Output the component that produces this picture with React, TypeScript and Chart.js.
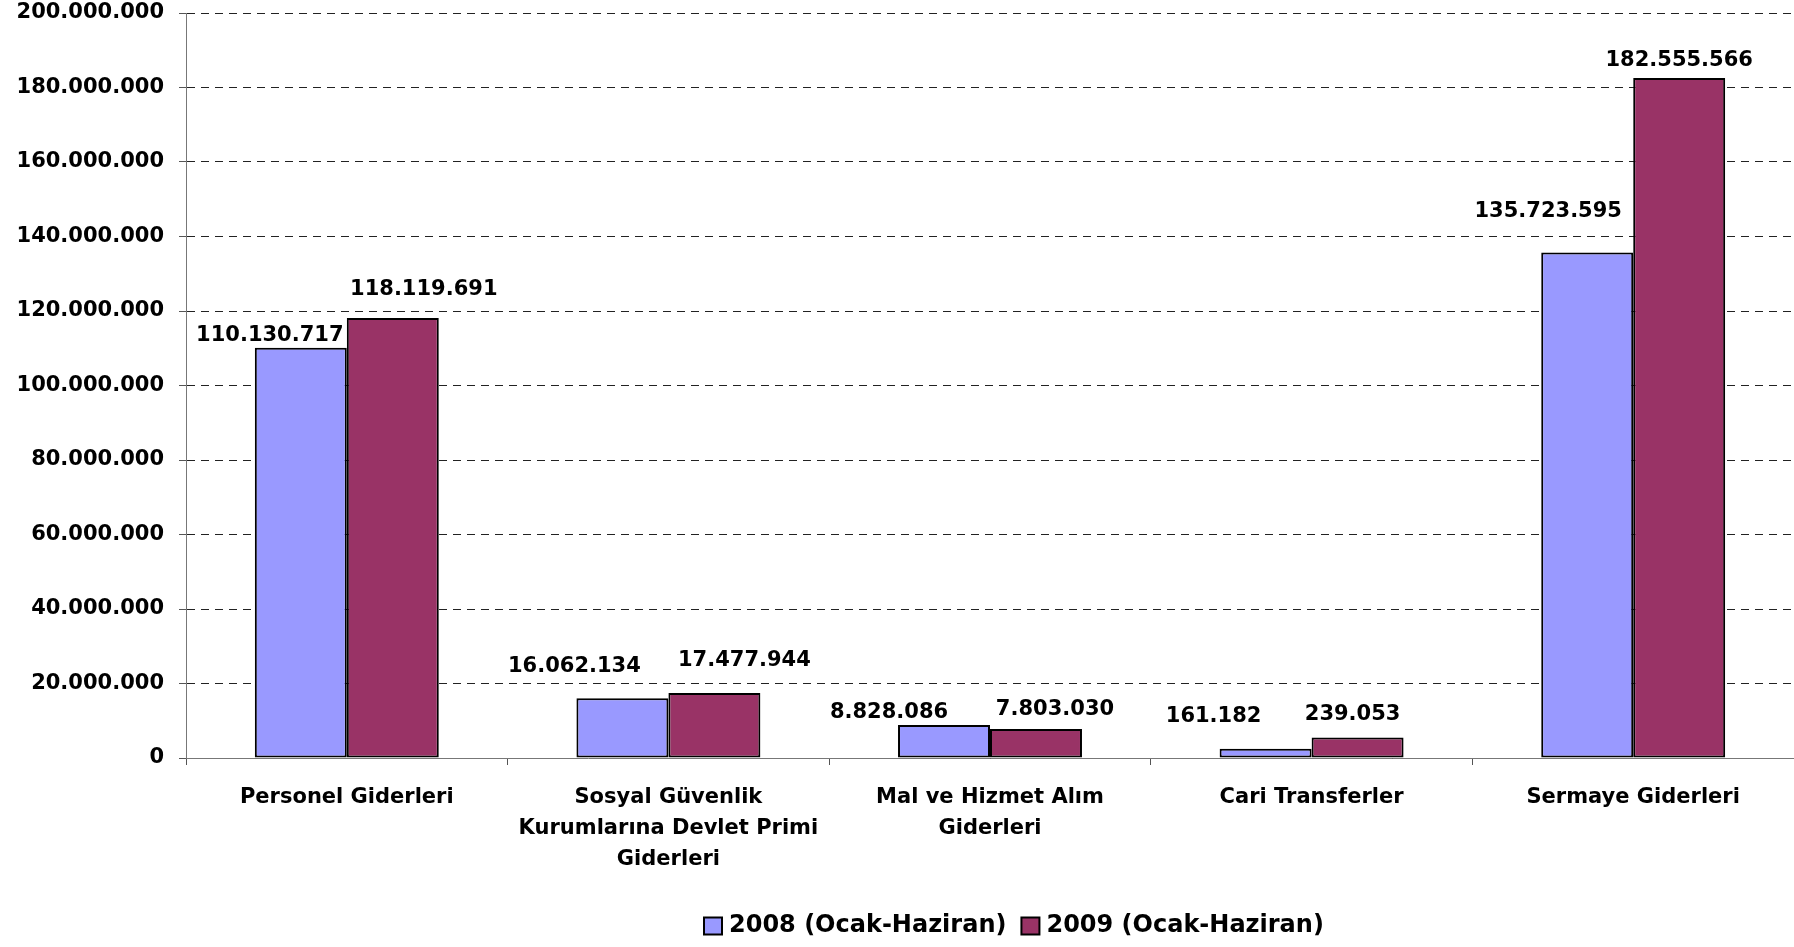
import React, { useEffect, useRef } from "react";
import { Chart, registerables } from "chart.js";

Chart.register(...registerables);

const categories: string[][] = [
  ["Personel Giderleri"],
  ["Sosyal Güvenlik", "Kurumlarına Devlet Primi", "Giderleri"],
  ["Mal ve Hizmet Alım", "Giderleri"],
  ["Cari Transferler"],
  ["Sermaye Giderleri"],
];
const seriesNames = ["2008 (Ocak-Haziran)", "2009 (Ocak-Haziran)"];
const values2008 = [110130717, 16062134, 8828086, 2500000, 135723595];
const values2009 = [118119691, 17477944, 7803030, 5500000, 182555566];
const valueLabels2008 = ["110.130.717", "16.062.134", "8.828.086", "161.182", "135.723.595"];
const valueLabels2009 = ["118.119.691", "17.477.944", "7.803.030", "239.053", "182.555.566"];
const labelNudge2008 = [[-31, -12], [-48, -32], [-55, -13], [-52, -32], [-39, -41]];
const labelNudge2009 = [[31, -28], [30, -32], [19, -19], [-5, -23], [0, -17]];
const seriesColors = ["#9999FF", "#993366"];

const FONT = "'DejaVu Sans', Verdana, sans-serif";

const fmt = (v: number) => String(Math.round(v)).replace(/\B(?=(\d{3})+(?!\d))/g, ".");

const valueLabelPlugin = {
  id: "valueLabels",
  afterDatasetsDraw(chart: any) {
    const ctx = chart.ctx;
    const texts = [valueLabels2008, valueLabels2009];
    const nudges = [labelNudge2008, labelNudge2009];
    ctx.save();
    ctx.font = `bold 21px ${FONT}`;
    ctx.fillStyle = "#000";
    ctx.textAlign = "center";
    ctx.textBaseline = "middle";
    chart.data.datasets.forEach((_: any, di: number) => {
      const meta = chart.getDatasetMeta(di);
      meta.data.forEach((bar: any, i: number) => {
        const [dx, dy] = nudges[di][i];
        ctx.fillText(texts[di][i], bar.x + dx, bar.y + dy);
      });
    });
    ctx.restore();
  },
};

const legendPlugin = {
  id: "customLegend",
  afterDraw(chart: any) {
    const ctx = chart.ctx;
    ctx.save();
    ctx.font = `bold 24px ${FONT}`;
    ctx.textBaseline = "middle";
    ctx.textAlign = "left";
    let x = 704;
    const yc = 926;
    chart.data.datasets.forEach((ds: any) => {
      ctx.fillStyle = ds.backgroundColor;
      ctx.fillRect(x, yc - 8.5, 18, 17);
      ctx.strokeStyle = "#000";
      ctx.lineWidth = 2;
      ctx.strokeRect(x, yc - 8.5, 18, 17);
      ctx.fillStyle = "#000";
      ctx.fillText(ds.label, x + 25, yc);
      x += 25 + ctx.measureText(ds.label).width + 15;
    });
    ctx.restore();
  },
};

export default function App() {
  const ref = useRef<HTMLCanvasElement | null>(null);
  useEffect(() => {
    document.body.style.margin = "0";
    if (!ref.current) return;
    const chart = new Chart(ref.current, {
      type: "bar",
      data: {
        labels: categories,
        datasets: [
          {
            label: seriesNames[0],
            data: values2008,
            backgroundColor: seriesColors[0],
            borderColor: "#000",
            borderWidth: 2,
            borderSkipped: false,
            categoryPercentage: 0.572,
            barPercentage: 1,
          },
          {
            label: seriesNames[1],
            data: values2009,
            backgroundColor: seriesColors[1],
            borderColor: "#000",
            borderWidth: 2,
            borderSkipped: false,
            categoryPercentage: 0.572,
            barPercentage: 1,
          },
        ],
      },
      options: {
        responsive: false,
        animation: false,
        layout: { padding: { top: 13, left: 0, right: 0, bottom: 0 } },
        plugins: {
          legend: { display: false },
          tooltip: { enabled: false },
        },
        scales: {
          x: {
            grid: { drawOnChartArea: false, drawTicks: true, tickLength: 7, offset: true, color: "#555" },
            border: { color: "#777", width: 1 },
            ticks: {
              font: { family: FONT, size: 21, weight: "bold", lineHeight: 1.476 },
              color: "#000",
              padding: 17,
              maxRotation: 0,
              autoSkip: false,
            },
            afterFit: (s: any) => {
              s.height = 189;
              s.paddingLeft = 0;
              s.paddingRight = 0;
            },
          },
          y: {
            min: 0,
            max: 200000000,
            grid: { color: "#222", lineWidth: 1, tickLength: 7, tickColor: "#555" },
            border: { color: "#777", width: 1, dash: [8, 6] },
            ticks: {
              stepSize: 20000000,
              font: { family: FONT, size: 21, weight: "bold" },
              color: "#000",
              padding: 15,
              callback: (v: any) => fmt(Number(v)),
            },
            afterFit: (s: any) => {
              s.width = 186;
              s.paddingTop = 0;
              s.paddingBottom = 0;
            },
          },
        },
      },
      plugins: [valueLabelPlugin, legendPlugin],
    });
    return () => chart.destroy();
  }, []);
  return (
    <div style={{ position: "absolute", left: 0, top: 0, width: 1794, height: 947, background: "#fff" }}>
      <canvas ref={ref} width={1794} height={947} />
    </div>
  );
}
